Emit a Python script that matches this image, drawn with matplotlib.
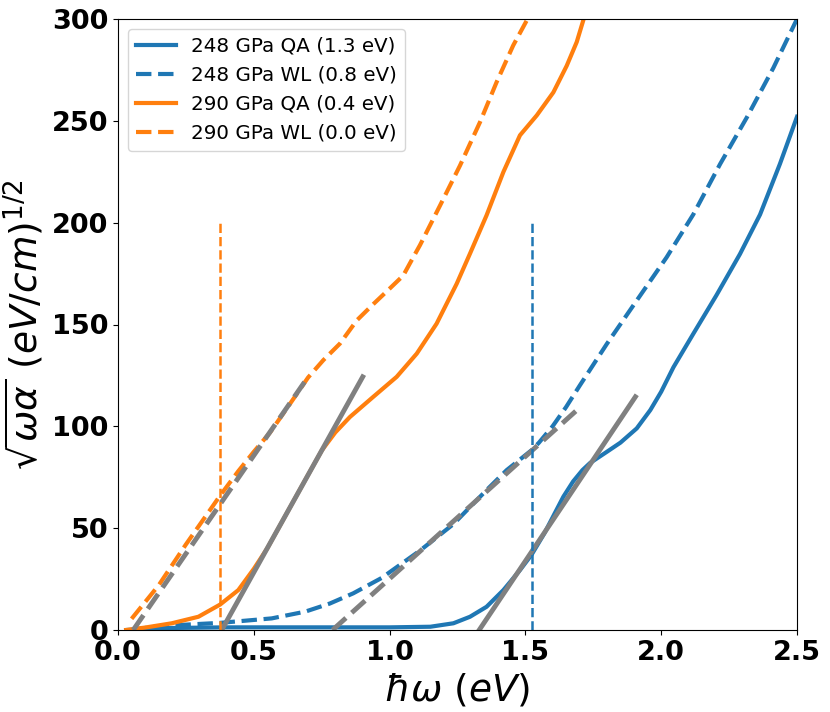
import matplotlib
matplotlib.use('Agg')
import matplotlib.pyplot as plt

# 248 GPa, QA
e_248_qa = [0.03, 0.10, 0.20, 0.40, 0.80, 1.00, 1.15, 1.235, 1.296, 1.357, 1.419, 1.48, 1.523,
            1.57, 1.603, 1.64, 1.676, 1.71, 1.738, 1.80, 1.85, 1.91, 1.96, 2.00, 2.045,
            2.118, 2.204, 2.29, 2.364, 2.437, 2.5]
a_248_qa = [0.0, 0.5, 1.0, 1.3, 1.3, 1.3, 1.6, 3.3, 6.5, 11.4, 19.6, 29.4, 37.0,
            47.5, 56.0, 65.5, 73.0, 78.5, 82.0, 87.5, 92.0, 99.0, 108.0, 117.0, 129.0,
            145.4, 164.5, 184.6, 204.0, 228.8, 252.0]

# 248 GPa, WL
e_248_wl = [0.05, 0.10, 0.16, 0.376, 0.566, 0.689, 0.78, 0.866, 0.97, 1.112, 1.235, 1.357,
            1.431, 1.523, 1.55, 1.60, 1.65, 1.70, 1.80, 1.91, 2.02, 2.118, 2.217, 2.315,
            2.413, 2.5]
a_248_wl = [0.0, 1.0, 2.0, 3.5, 5.7, 9.0, 13.0, 18.0, 25.5, 39.0, 52.0, 68.7,
            78.5, 88.3, 92.0, 100.0, 109.5, 120.0, 140.5, 161.8, 183.0, 204.0, 228.8, 251.6,
            276.0, 300.0]

# 290 GPa, QA
e_290_qa = [0.03, 0.10, 0.198, 0.296, 0.376, 0.443, 0.50, 0.55, 0.60, 0.65, 0.70, 0.75,
            0.80, 0.854, 0.94, 1.026, 1.10, 1.173, 1.247, 1.296, 1.357, 1.419, 1.48, 1.542,
            1.603, 1.652, 1.689, 1.713, 1.74]
a_290_qa = [0.0, 1.2, 3.3, 6.5, 12.5, 19.6, 30.0, 40.2, 52.2, 64.2, 76.2, 88.1,
            97.0, 104.6, 114.5, 124.3, 135.7, 150.4, 170.0, 184.8, 203.6, 224.9, 242.9, 252.7,
            264.0, 277.0, 288.7, 299.3, 312.0]

# 290 GPa, WL
e_290_wl = [0.05, 0.15, 0.25, 0.376, 0.443, 0.50, 0.56, 0.633, 0.70, 0.756, 0.817, 0.879,
            0.94, 1.0, 1.05, 1.087, 1.112, 1.186, 1.259, 1.333, 1.394, 1.455, 1.505, 1.55]
a_290_wl = [5.5, 22.0, 42.0, 66.0, 78.0, 87.5, 97.0, 111.0, 124.0, 132.5, 140.6, 152.0,
            160.0, 167.6, 174.0, 183.0, 189.0, 208.5, 228.0, 249.4, 269.0, 287.0, 299.3, 313.0]

# linear fits (gray)
fit_290_qa_x = [0.382, 0.901]
fit_290_qa_y = [0.0, 124.3]
fit_290_wl_x = [0.056, 0.70]
fit_290_wl_y = [0.0, 124.3]
fit_248_qa_x = [1.33, 1.905]
fit_248_qa_y = [0.0, 114.5]
fit_248_wl_x = [0.79, 1.69]
fit_248_wl_y = [0.0, 108.0]

# gap markers
gap_290 = 0.376
gap_248 = 1.523
gap_top = 200

fig = plt.figure(figsize=(8.3, 7.12), dpi=100)
ax = fig.add_axes([118 / 830, 1 - 630 / 712, (797 - 118) / 830, (630 - 19) / 712])

ax.plot(e_248_qa, a_248_qa, color='C0', lw=3, label='248 GPa QA (1.3 eV)')
ax.plot(e_248_wl, a_248_wl, color='C0', lw=3, ls='--', label='248 GPa WL (0.8 eV)')
ax.plot(e_290_qa, a_290_qa, color='C1', lw=3, label='290 GPa QA (0.4 eV)')
ax.plot(e_290_wl, a_290_wl, color='C1', lw=3, ls='--', label='290 GPa WL (0.0 eV)')

ax.plot(fit_290_qa_x, fit_290_qa_y, color='gray', lw=3.5)
ax.plot(fit_290_wl_x, fit_290_wl_y, color='gray', lw=3.5, ls='--')
ax.plot(fit_248_qa_x, fit_248_qa_y, color='gray', lw=3.5)
ax.plot(fit_248_wl_x, fit_248_wl_y, color='gray', lw=3.5, ls='--')

ax.plot([gap_290, gap_290], [0, gap_top], color='C1', lw=1.8, ls='--')
ax.plot([gap_248, gap_248], [0, gap_top], color='C0', lw=1.8, ls='--')

ax.set_xlim(0, 2.5)
ax.set_ylim(0, 300)
ax.set_xticks([0.0, 0.5, 1.0, 1.5, 2.0, 2.5])
ax.set_yticks([0, 50, 100, 150, 200, 250, 300])
for lab in ax.get_xticklabels() + ax.get_yticklabels():
    lab.set_fontsize(19.5)
    lab.set_fontweight('bold')

ax.set_xlabel(r'$\hbar\omega\ (eV)$', fontsize=27)
ax.set_ylabel(r'$\sqrt{\omega\alpha}\ (eV/cm)^{1/2}$', fontsize=27)
ax.legend(loc='upper left', fontsize=14.3)

fig.savefig('out.png', dpi=100)
